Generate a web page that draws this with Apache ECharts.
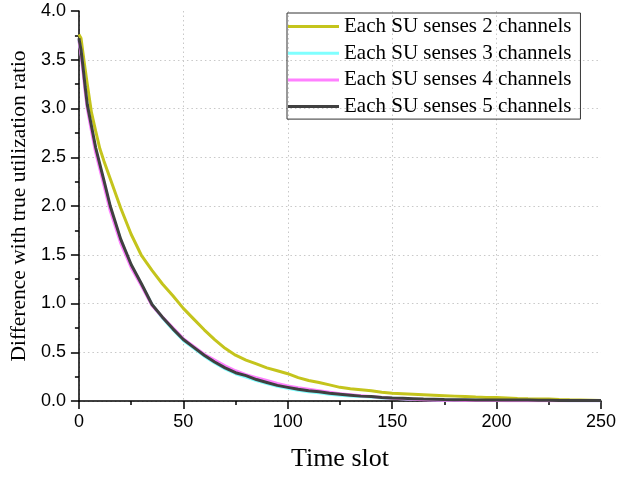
<!DOCTYPE html>
<html>
<head>
<meta charset="utf-8">
<script src="https://cdn.jsdelivr.net/npm/echarts@6/dist/echarts.min.js"></script>
<style>html,body{margin:0;padding:0;background:#fff}#c{width:639px;height:477px}</style>
</head>
<body>
<div id="c"></div>
<script>
const timeSlots = [0,1,2,3,4,6,8,10,12,15,20,25,30,35,40,45,50,55,60,65,70,75,80,85,90,95,100,105,110,115,120,125,130,135,140,145,150,155,160,165,170,175,180,185,190,195,200,205,210,215,220,225,230,235,240,245,250];
const su2 = [3.76,3.72,3.56,3.40,3.25,2.96,2.77,2.59,2.46,2.28,1.98,1.71,1.49,1.34,1.20,1.08,0.95,0.84,0.73,0.63,0.54,0.47,0.42,0.38,0.34,0.31,0.28,0.24,0.21,0.19,0.165,0.14,0.125,0.115,0.105,0.09,0.08,0.075,0.07,0.065,0.06,0.055,0.05,0.045,0.04,0.037,0.035,0.03,0.025,0.022,0.02,0.02,0.015,0.012,0.01,0.008,0.005];
const su3 = [3.70,3.58,3.40,3.20,3.02,2.80,2.58,2.41,2.24,1.98,1.65,1.39,1.19,0.99,0.85,0.73,0.62,0.54,0.46,0.39,0.33,0.28,0.245,0.21,0.18,0.15,0.13,0.11,0.095,0.085,0.07,0.06,0.05,0.045,0.04,0.032,0.027,0.022,0.018,0.015,0.012,0.01,0.009,0.008,0.007,0.006,0.006,0.005,0.005,0.005,0.004,0.004,0.004,0.003,0.003,0.003,0.003];
const su4 = [3.70,3.56,3.37,3.17,3.00,2.77,2.55,2.38,2.21,1.95,1.62,1.37,1.18,0.98,0.86,0.75,0.64,0.56,0.48,0.42,0.36,0.31,0.27,0.24,0.21,0.18,0.155,0.135,0.12,0.105,0.09,0.075,0.065,0.055,0.045,0.035,0.028,0.022,0.018,0.014,0.01,0.008,0.007,0.006,0.005,0.004,0.004,0.003,0.003,0.003,0.003,0.002,0.002,0.002,0.002,0.002,0.002];
const su5 = [3.72,3.60,3.42,3.22,3.04,2.82,2.60,2.43,2.26,2.00,1.66,1.40,1.20,0.99,0.86,0.74,0.63,0.55,0.47,0.40,0.34,0.29,0.26,0.22,0.19,0.16,0.14,0.12,0.105,0.095,0.08,0.07,0.06,0.05,0.045,0.035,0.03,0.027,0.024,0.02,0.018,0.015,0.013,0.012,0.01,0.01,0.01,0.009,0.009,0.01,0.008,0.007,0.006,0.006,0.005,0.005,0.005];
const seriesNames = ['Each SU senses 2 channels','Each SU senses 3 channels','Each SU senses 4 channels','Each SU senses 5 channels'];
const seriesColors = ['#c4c41c','#80ffff','#ff80ff','#404040'];
const allValues = [su2, su3, su4, su5];

const chart = echarts.init(document.getElementById('c'), null, {renderer: 'canvas'});
const gridColor = '#c8c8c8';
const option = {
  animation: false,
  backgroundColor: '#fff',
  grid: {left: 77, right: 38, top: 11, bottom: 76},
  legend: {
    orient: 'vertical',
    left: 287, top: 13,
    padding: [3, 9, 2, 1],
    icon: 'rect',
    itemWidth: 51, itemHeight: 3, itemGap: 5.7,
    borderColor: '#333', borderWidth: 1,
    textStyle: {fontFamily: 'Liberation Serif', fontSize: 21, color: '#000', lineHeight: 21},
    data: seriesNames
  },
  xAxis: {
    type: 'value', min: 0, max: 250, interval: 50,
    name: 'Time slot', nameLocation: 'middle', nameGap: 45,
    nameTextStyle: {fontFamily: 'Liberation Serif', fontSize: 26, color: '#000'},
    axisLine: {lineStyle: {color: '#000', width: 1.5}},
    axisTick: {show: true, inside: false, length: 8, lineStyle: {color: '#000', width: 1.5}},
    minorTick: {show: true, splitNumber: 2, length: 4, lineStyle: {color: '#000', width: 1.5}},
    axisLabel: {fontFamily: 'Liberation Sans', fontSize: 18, color: '#000', margin: 12},
    splitLine: {show: true, lineStyle: {color: [gridColor, gridColor, gridColor, gridColor, gridColor, 'rgba(0,0,0,0)'], type: [1.5, 3], width: 1}}
  },
  yAxis: {
    type: 'value', min: 0, max: 4, interval: 0.5,
    name: 'Difference with true utilization ratio', nameLocation: 'middle', nameGap: 33,
    nameTextStyle: {fontFamily: 'Liberation Serif', fontSize: 21.5, color: '#000'},
    axisLine: {show: true, lineStyle: {color: '#000', width: 1.5}},
    axisTick: {show: true, inside: false, length: 8, lineStyle: {color: '#000', width: 1.5}},
    minorTick: {show: true, splitNumber: 2, length: 4, lineStyle: {color: '#000', width: 1.5}},
    axisLabel: {fontFamily: 'Liberation Sans', fontSize: 18, color: '#000', margin: 13, formatter: v => v.toFixed(1)},
    splitLine: {show: true, lineStyle: {color: [gridColor, gridColor, gridColor, gridColor, gridColor, gridColor, gridColor, gridColor, 'rgba(0,0,0,0)'], type: [1.5, 3], width: 1}}
  },
  series: seriesNames.map((n, i) => ({
    name: n, type: 'line', symbol: 'none', smooth: false,
    data: timeSlots.map((t, j) => [t, allValues[i][j]]),
    lineStyle: {color: seriesColors[i], width: 3},
    itemStyle: {color: seriesColors[i]},
    z: 2 + i
  }))
};
chart.setOption(option);
</script>
</body>
</html>
